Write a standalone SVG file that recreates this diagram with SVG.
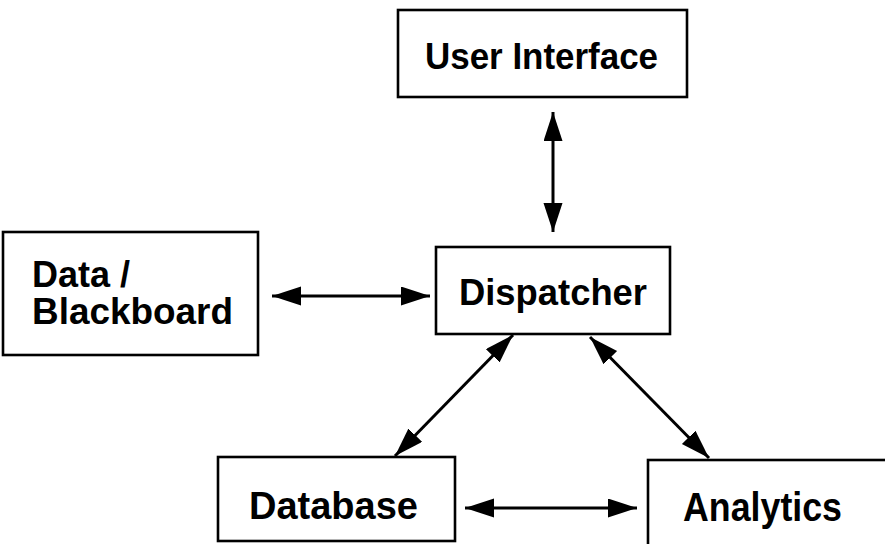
<svg xmlns="http://www.w3.org/2000/svg" width="885" height="544" viewBox="0 0 885 544">
<style>
.box{fill:#fff;stroke:#000;stroke-width:2.6}
.lbl{font-family:"Liberation Sans",Arial,Helvetica,sans-serif;font-weight:bold;fill:#000}
.con{stroke:#000;stroke-width:3;fill:none;marker-start:url(#ah);marker-end:url(#ah)}
</style>
<defs>
<marker id="ah" markerUnits="userSpaceOnUse" markerWidth="30" markerHeight="20" viewBox="0 0 30 20" refX="29" refY="9.5" orient="auto-start-reverse">
<path d="M0,0 L29,9.5 L0,19 Z" fill="#000"/>
</marker>
</defs>
<rect width="885" height="544" fill="#fff"/>
<g id="user-interface">
<rect class="box" x="398" y="10" width="289" height="87"/>
<text class="lbl" x="425" y="69" font-size="36" textLength="233" lengthAdjust="spacingAndGlyphs">User Interface</text>
</g>
<g id="dispatcher">
<rect class="box" x="436" y="247" width="234" height="87"/>
<text class="lbl" x="459" y="305" font-size="37" textLength="188" lengthAdjust="spacingAndGlyphs">Dispatcher</text>
</g>
<g id="data-blackboard">
<rect class="box" x="3" y="232" width="255" height="123"/>
<text class="lbl" x="32" y="287" font-size="36">Data /</text>
<text class="lbl" x="32" y="324" font-size="36" textLength="201" lengthAdjust="spacingAndGlyphs">Blackboard</text>
</g>
<g id="database">
<rect class="box" x="218" y="457" width="237" height="84"/>
<text class="lbl" x="249" y="519" font-size="39" textLength="169" lengthAdjust="spacingAndGlyphs">Database</text>
</g>
<g id="analytics">
<rect class="box" x="648" y="460" width="250" height="100"/>
<text class="lbl" x="683" y="521" font-size="40" textLength="159" lengthAdjust="spacingAndGlyphs">Analytics</text>
</g>
<g id="connectors">
<line class="con" x1="553" y1="112" x2="553" y2="232"/>
<line class="con" x1="272" y1="296" x2="430" y2="296"/>
<line class="con" x1="513" y1="335" x2="395" y2="456"/>
<line class="con" x1="590" y1="337" x2="709" y2="458"/>
<line class="con" x1="465" y1="508" x2="637" y2="508"/>
</g>
</svg>
